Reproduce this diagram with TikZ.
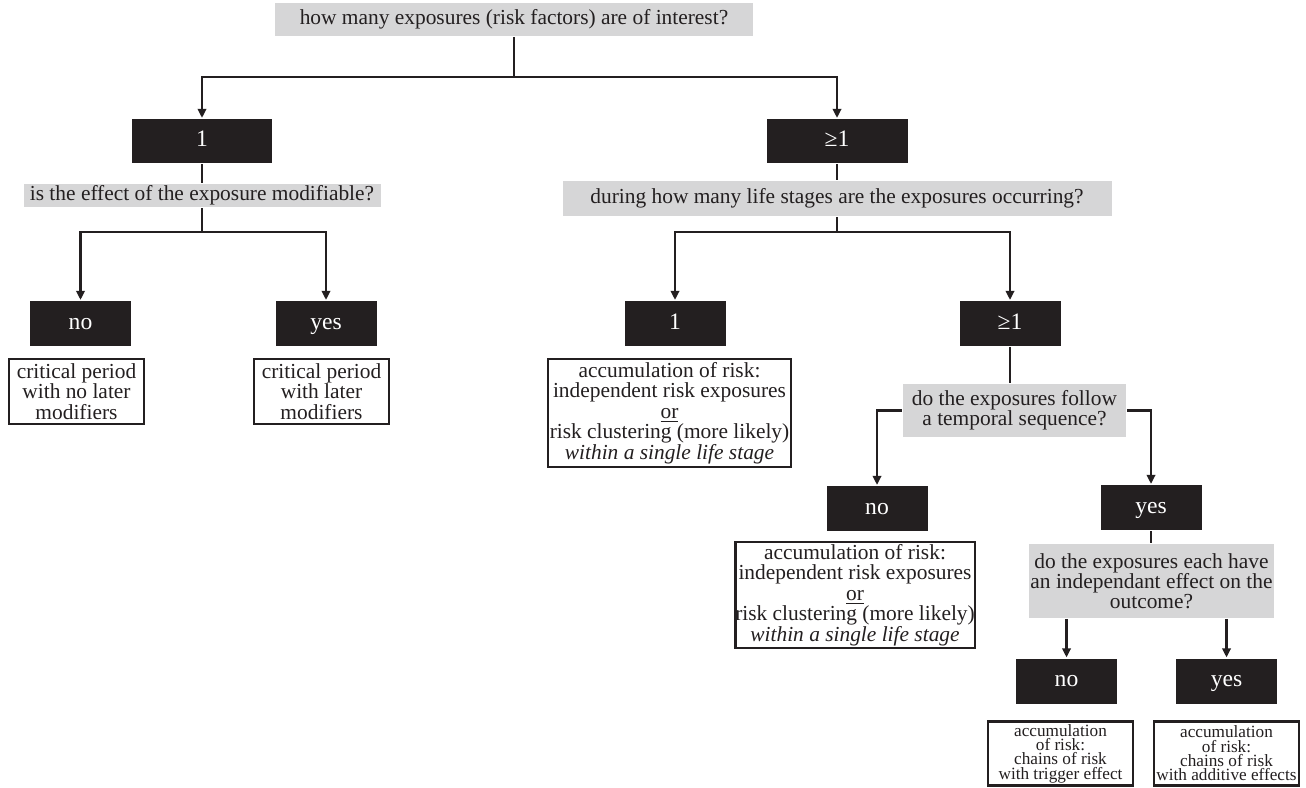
\documentclass[tikz,border=0pt]{standalone}
\usepackage{fontspec}
\setmainfont{Liberation Serif}
\usetikzlibrary{arrows.meta}
\definecolor{ink}{HTML}{231F20}
\definecolor{qgrey}{HTML}{D6D6D7}

\begin{document}
\begin{tikzpicture}[x=0.5pt, y=-0.5pt, color=ink, line width=1.1pt,
      >={Triangle[length=4.5pt,width=4.2pt]},
      every node/.append style={inner sep=0pt, align=center}]
    \tikzstyle{question} = [fill=qgrey, text=ink, font=\fontsize{10.7}{10}\selectfont]
    \tikzstyle{answer} = [fill=ink, text=white, minimum width=50.5pt, minimum height=22.5pt, text height=8pt, text depth=2.5pt, font=\fontsize{11.8}{12}\selectfont]
    \tikzstyle{outcome} = [draw=ink, line width=1.25pt, fill=white, text=ink, font=\fontsize{10.7}{10.2}\selectfont]
    \tikzstyle{small} = [font=\fontsize{8.6}{7.2}\selectfont]
    \useasboundingbox (0,0) rectangle (1306,787);
    % first question
    \node (exposures) [question, minimum width=239pt, minimum height=16.5pt] at (514,19.5) {how many exposures (risk factors) are of interest?};
    \node (one) [answer, minimum width=70pt, minimum height=22pt] at (202,141) {1};
    \node (many) [answer, minimum width=70.5pt, minimum height=22pt] at (837,141) {≥1};
    \coordinate (split1) at (514,77);
    \draw (exposures) -- (split1);
    \draw[->] (split1) -| (one);
    \draw[->] (split1) -| (many);
    % one exposure
    \node (modifiable) [question, minimum width=178.5pt, minimum height=11.5pt] at (202,195.5) {is the effect of the exposure modifiable?};
    \node (no1) [answer] at (80.5,323.5) {no};
    \node (yes1) [answer] at (326,323.5) {yes};
    \node (critical) [outcome, minimum width=67.5pt, minimum height=32.5pt] at (76.5,391.5) {critical period\\with no later\\modifiers};
    \node (modified) [outcome, minimum width=67.5pt, minimum height=32.5pt] at (321.5,391.5) {critical period\\with later\\modifiers};
    \coordinate (split2) at (202,232);
    \draw (one) -- (modifiable);
    \draw (modifiable) -- (split2);
    \draw[->] (split2) -| (no1);
    \draw[->] (split2) -| (yes1);
    % more than one exposure
    \node (stages) [question, minimum width=274.5pt, minimum height=17.5pt] at (837,198.5) {during how many life stages are the exposures occurring?};
    \node (one2) [answer] at (675,323.5) {1};
    \node (many2) [answer] at (1010,323.5) {≥1};
    \node (single) [outcome, minimum width=121.5pt, minimum height=54pt] at (669.5,413) {accumulation of risk:\\independent risk exposures\\\underline{or}\\risk clustering (more likely)\\\textit{within a single life stage}};
    \coordinate (split3) at (837,232);
    \draw (many) -- (stages);
    \draw (stages) -- (split3);
    \draw[->] (split3) -| (one2);
    \draw[->] (split3) -| (many2);
    % temporal sequence
    \node (temporal) [question, minimum width=111.5pt, minimum height=26.5pt] at (1014.5,410.5) {do the exposures follow\\a temporal sequence?};
    \node (no2) [answer] at (877,508.5) {no};
    \node (yes2) [answer] at (1151,507.5) {yes};
    \node (independent) [outcome, minimum width=118pt, minimum height=53pt] at (855,595) {accumulation of risk:\\independent risk exposures\\\underline{or}\\risk clustering (more likely)\\\textit{within a single life stage}};
    \draw (many2) -- (many2 |- temporal.north);
    \draw[->] (temporal.west) -| (no2);
    \draw[->] (temporal.east) -| (yes2);
    % independent effect
    \node (effect) [question, minimum width=122.5pt, minimum height=37pt] at (1151.5,581) {do the exposures each have\\an independant effect on the\\outcome?};
    \node (no3) [answer] at (1066.5,681) {no};
    \node (yes3) [answer] at (1226.5,681) {yes};
    \node (trigger) [outcome, small, minimum width=72.5pt, minimum height=32pt] at (1060.5,753.5) {accumulation\\of risk:\\chains of risk\\with trigger effect};
    \node (additive) [outcome, small, minimum width=72.5pt, minimum height=32pt] at (1226.5,753.5) {accumulation\\of risk:\\chains of risk\\with additive effects};
    \draw (yes2) -- (yes2 |- effect.north);
    \draw[->] (effect.south -| no3) -- (no3);
    \draw[->] (effect.south -| yes3) -- (yes3);
\end{tikzpicture}
\end{document}
